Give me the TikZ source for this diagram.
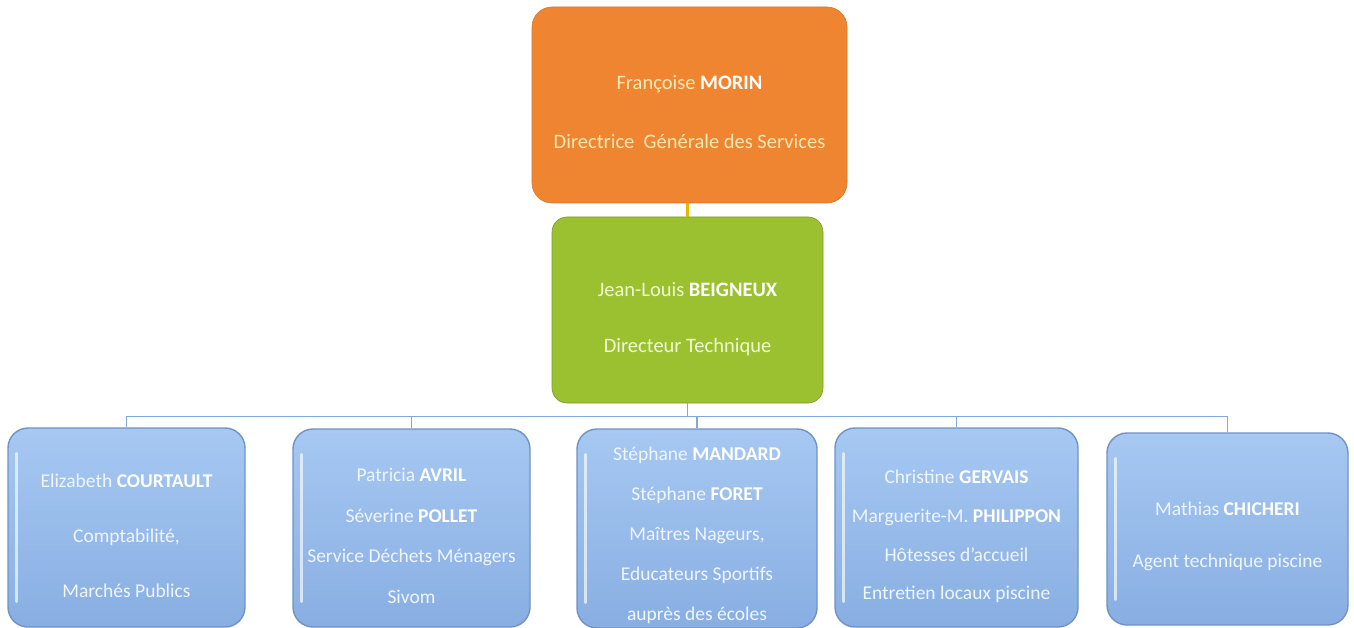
\documentclass[tikz,border=0pt]{standalone}
\usepackage{fontspec}
\setmainfont{Carlito}
\definecolor{orangebox}{HTML}{EF8531}
\definecolor{greenbox}{HTML}{9BC131}
\definecolor{bluetop}{HTML}{A6C8F2}
\definecolor{bluebot}{HTML}{88AEE2}
\definecolor{blueedge}{HTML}{7193C4}
\definecolor{busline}{HTML}{7FA8DC}
\definecolor{yline}{HTML}{F0B400}
\definecolor{otext}{HTML}{FCE8B4}
\definecolor{gtext}{HTML}{F0FAD2}
\definecolor{btext}{HTML}{EEF5FF}
\begin{document}
\begin{tikzpicture}[x=1pt,y=-1pt,
  topbox/.style={rectangle, rounded corners=20pt, inner sep=0pt,
    fill=orangebox, draw=orangebox!90!black, line width=0.6pt,
    minimum width=315pt, minimum height=196pt},
  midbox/.style={rectangle, rounded corners=15pt, inner sep=0pt,
    fill=greenbox, draw=greenbox!80!black, line width=0.6pt,
    minimum width=271pt, minimum height=186pt},
  leafbox/.style={rectangle, rounded corners=20pt, inner sep=0pt,
    top color=bluetop, bottom color=bluebot, draw=blueedge, line width=1.4pt,
    minimum width=240pt, minimum height=199pt},
  toptext/.style={align=center, inner sep=0pt, text=otext, font=\fontsize{20.5}{59}\selectfont},
  midtext/.style={align=center, inner sep=0pt, text=gtext, font=\fontsize{20.5}{56}\selectfont},
  leaftext/.style={align=center, inner sep=0pt, text=btext},
  shine/.style={draw=white, opacity=0.65, line width=3pt, line cap=round},
  conn/.style={draw=busline, line width=1.4pt},
  yconn/.style={draw=yline, line width=2.4pt}
]
\useasboundingbox (0,0) rectangle (1354,628);
\fill[white] (0,0) rectangle (1354,628);

\node[topbox] (dgs) at (689.5,105) {};
\node[toptext] (dgst) at (689.5,112) {Françoise \textbf{\color{white}MORIN}\\Directrice\ \ Générale des Services};
\node[midbox] (dt) at (687.5,310) {};
\node[midtext] (dtt) at (687.5,319) {Jean-Louis \textbf{\color{white}BEIGNEUX}\\Directeur Technique};

\node[leafbox, minimum width=237pt] (b1) at (126.5,527.5) {};
\node[leafbox, minimum width=237pt, minimum height=198pt] (b2) at (411.5,528) {};
\node[leafbox] (b3) at (697,528.5) {};
\node[leafbox, minimum width=243pt] (b4) at (956.5,527.5) {};
\node[leafbox, minimum width=241pt, minimum height=192pt] (b5) at (1227.5,529) {};

\foreach \b in {b1,b2,b3,b4,b5}{
  \draw[shine] ([xshift=9pt,yshift=-26pt]\b.north west) -- ([xshift=9pt,yshift=26pt]\b.south west);
}

\node[leaftext, font=\fontsize{19.5}{55}\selectfont] (b1t) at (126.5,535.5)
  {Elizabeth \textbf{\color{white}COURTAULT}\\Comptabilité,\\Marchés Publics};
\node[leaftext, font=\fontsize{19.5}{40.5}\selectfont] (b2t) at (411.5,536)
  {Patricia \textbf{\color{white}AVRIL}\\Séverine \textbf{\color{white}POLLET}\\Service Déchets Ménagers\\Sivom};
\node[leaftext, font=\fontsize{19.5}{40}\selectfont] (b3t) at (697,535.5)
  {Stéphane \textbf{\color{white}MANDARD}\\Stéphane \textbf{\color{white}FORET}\\Maîtres Nageurs,\\Educateurs Sportifs\\auprès des écoles};
\node[leaftext, font=\fontsize{19.5}{38.7}\selectfont] (b4t) at (956.5,536.5)
  {Christine \textbf{\color{white}GERVAIS}\\Marguerite-M. \textbf{\color{white}PHILIPPON}\\Hôtesses d'accueil\\Entretien locaux piscine};
\node[leaftext, font=\fontsize{19.5}{52}\selectfont] (b5t) at (1227.5,536.5)
  {Mathias \textbf{\color{white}CHICHERI}\\Agent technique piscine};

\draw[yconn] (dgs.south -| dt.south) -- (dt.north);
\foreach \b in {b1,b2,b3,b4,b5}{
  \draw[conn] (dt.south) -- +(0,13) -| (\b.north);
}
\end{tikzpicture}
\end{document}
